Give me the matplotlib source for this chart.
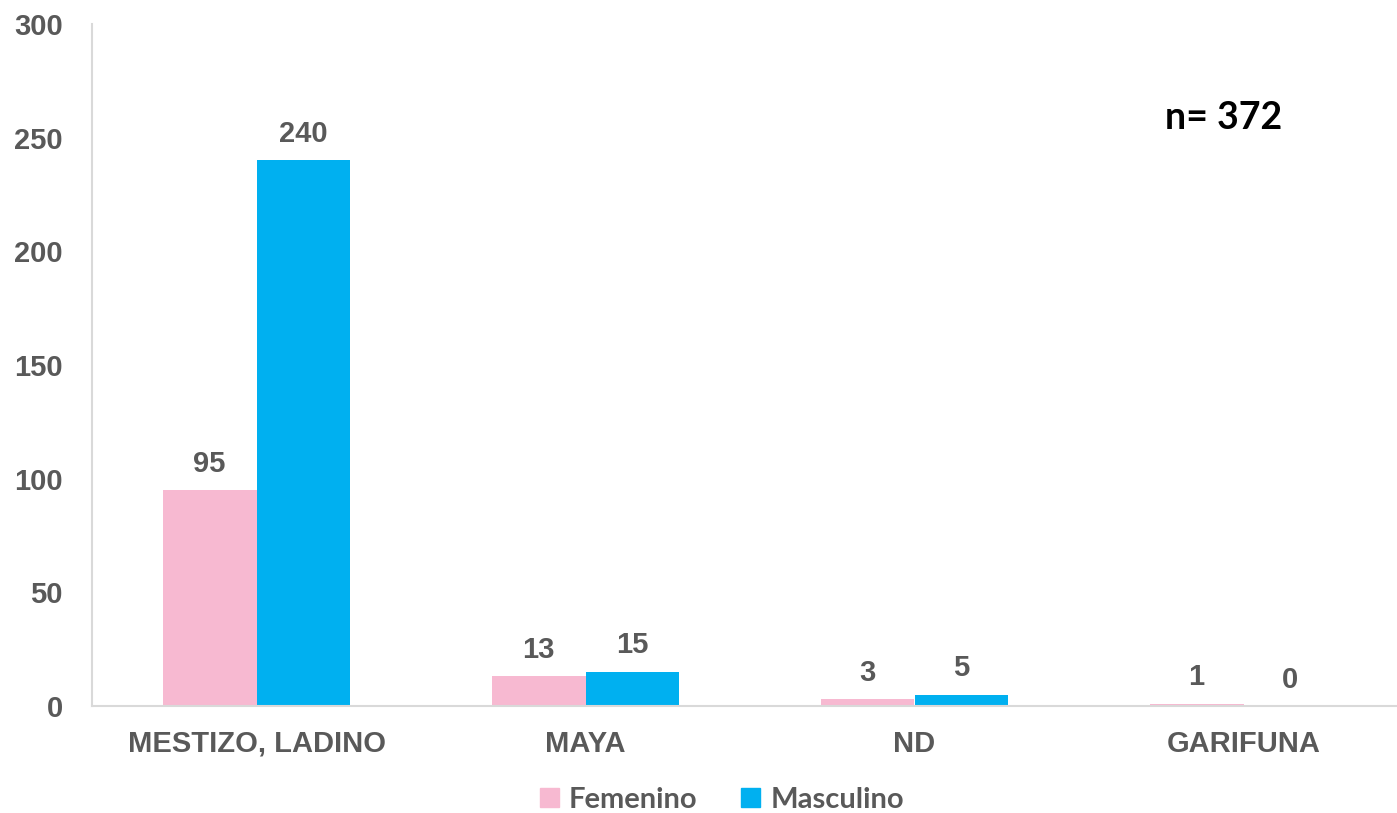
import matplotlib.pyplot as plt
import numpy as np
from matplotlib.patches import Patch

# data
categories = ["MESTIZO, LADINO", "MAYA", "ND", "GARIFUNA"]
femenino = [95, 13, 3, 1]
masculino = [240, 15, 5, 0]
series_names = ["Femenino", "Masculino"]
y_ticks = [0, 50, 100, 150, 200, 250, 300]

PINK = "#F7B9D1"
BLUE = "#00B0F0"
TEXT = "#595959"
SPINE = "#D9D9D9"

W, H = 1397, 813
fig = plt.figure(figsize=(W / 100, H / 100), dpi=100)
ax = fig.add_axes([92 / W, 1 - 706 / H, (1408 - 92) / W, (706 - 24) / H])

x = np.arange(len(categories))
bw = 0.285
b1 = ax.bar(x - bw / 2, femenino, bw, color=PINK, label=series_names[0])
b2 = ax.bar(x + bw / 2, masculino, bw, color=BLUE, label=series_names[1])

lab_font = dict(family="Liberation Sans", fontsize=21, fontweight="bold", color=TEXT)
for bars in (b1, b2):
    for rect in bars:
        h = rect.get_height()
        ax.annotate(f"{h:.0f}", (rect.get_x() + rect.get_width() / 2, h),
                    xytext=(0, 9), textcoords="offset points",
                    ha="center", va="bottom", **lab_font)

ax.set_xlim(-0.5, len(categories) - 0.5)
ax.set_ylim(0, 300)
ax.set_yticks(y_ticks)
ax.set_xticks(x)
ax.set_xticklabels(categories)
for t in ax.get_xticklabels() + ax.get_yticklabels():
    t.set_family("Liberation Sans")
    t.set_fontsize(21)
    t.set_fontweight("bold")
    t.set_color(TEXT)
ax.tick_params(axis="both", length=0)
ax.tick_params(axis="x", pad=17)
ax.tick_params(axis="y", pad=21)

for s in ("top", "right"):
    ax.spines[s].set_visible(False)
for s in ("left", "bottom"):
    ax.spines[s].set_color(SPINE)
    ax.spines[s].set_linewidth(1.5)

ax.text(1224 / W, 1 - 118 / H, "n= 372", transform=fig.transFigure,
        ha="center", va="center", family="Lato", fontsize=27,
        fontweight="bold", color="black")

handles = [Patch(color=PINK, label=series_names[0]),
           Patch(color=BLUE, label=series_names[1])]
leg = fig.legend(handles=handles, loc="center", bbox_to_anchor=(722 / W, 1 - 800 / H),
                 ncol=2, frameon=False, handlelength=0.65, handleheight=0.65,
                 handletextpad=0.35, columnspacing=1.5,
                 prop=dict(family="Lato", size=21, weight="bold"))
for t in leg.get_texts():
    t.set_color(TEXT)

fig.savefig("out.png", dpi=100, facecolor="white")
